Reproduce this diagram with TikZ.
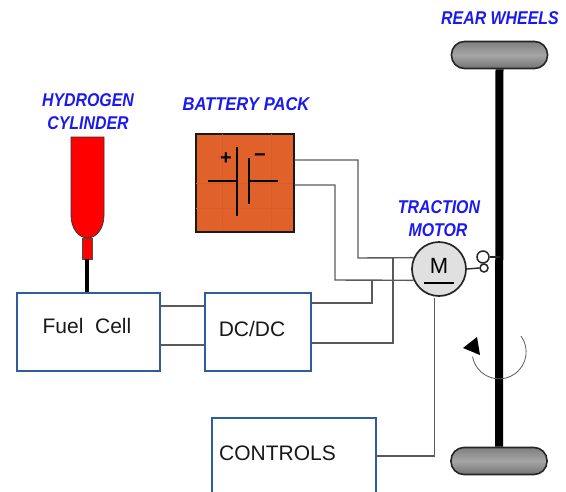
\documentclass[tikz,border=0pt]{standalone}
\usepackage{fontspec}
\setmainfont{Liberation Sans}
\usetikzlibrary{arrows.meta,positioning,calc}
\definecolor{boxblue}{HTML}{2F5C9A}
\definecolor{titleblue}{HTML}{1A1AF0}
\definecolor{brick}{HTML}{E0622A}
\definecolor{wire}{HTML}{5A5A5A}

\begin{document}
\begin{tikzpicture}[x=1pt,y=-1pt,
  blk/.style={draw=boxblue,line width=1.8pt,fill=white,inner sep=0pt,anchor=north west},
  txt/.style={font=\fontsize{21}{23}\selectfont,text=black!90,inner sep=0pt},
  ttl/.style={font=\fontsize{18.5}{20}\selectfont\bfseries\itshape,text=titleblue,inner sep=0pt,xscale=0.86,transform shape},
  wheelpad/.style={draw=black!85,line width=1.6pt,rounded corners=13pt,minimum width=96pt,minimum height=27pt,inner sep=0pt,
    top color=black!50,bottom color=black!55,middle color=black!35},
  gearwheel/.style={circle,draw=black!85,line width=1.5pt,fill=white,inner sep=0pt},
  a/.style={wire,line width=1.4pt}]
  \useasboundingbox (0,0) rectangle (566,491);
  \clip (0,0) rectangle (566,491);
  % boxes
  \node[blk,minimum width=143pt,minimum height=78pt] (fuel) at (16,292) {};
  \node[blk,minimum width=106pt,minimum height=78pt] (dcdc) at (204,292) {};
  \node[blk,minimum width=164pt,minimum height=80pt] (ctrl) at (211,417) {};
  \node[txt] (fueltxt) at (87,326) {Fuel\ \ Cell};
  \node[txt] (dcdctxt) at (252,329) {DC/DC};
  \node[txt,anchor=west] (ctrltxt) at (219,453) {CONTROLS};
  % battery
  \node[draw=black!90,line width=2pt,fill=brick,minimum size=98pt,inner sep=0pt] (batt) at (244.5,182.5) {};
  \foreach \gx in {222,271} \draw[brick!96!black,line width=0.5pt] (\gx,134) -- (\gx,231);
  \foreach \gy in {183,208} \draw[brick!96!black,line width=0.5pt] (196,\gy) -- (293,\gy);
  \draw[line width=1.6pt] (208,181) -- (237,181) (237,147) -- (237,216);
  \draw[line width=1.6pt] (278,181) -- (249,181) (249,158) -- (249,204);
  \node[font=\fontsize{20}{21}\selectfont\bfseries,inner sep=0pt] (plus) at (226,159) {+};
  \node[font=\fontsize{20}{21}\selectfont\bfseries,inner sep=0pt] (minus) at (260,158) {−};
  % cylinder
  \node[draw=black!70,line width=0.8pt,fill=red,minimum width=10pt,minimum height=21pt,inner sep=0pt] (neck) at (87,248.5) {};
  \draw[draw=black!80,line width=0.8pt,fill=red] (71,137) -- (104,137) -- (104,215)
    .. controls (104,229) and (96,238) .. (87.5,238) .. controls (79,238) and (71,229) .. (71,215) -- cycle;
  \draw[black,line width=3.8pt] (neck.south) -- (neck.south |- fuel.north);
  % wheels and axle
  \node[wheelpad] (wtop) at (499.5,55) {};
  \node[wheelpad] (wbot) at (499,461) {};
  \draw[black,line width=8pt] (wtop.south) -- (wbot.north);
  % motor
  \node[circle,draw=black!85,line width=1.7pt,fill=black!12,minimum size=54pt,inner sep=0pt] (motor) at (439,269) {};
  \node[font=\fontsize{22}{24}\selectfont,inner sep=0pt] (mlabel) at (439,266) {M};
  \draw[line width=1.4pt] (424,283) -- (454,283);
  \node[gearwheel,minimum size=12pt] (gearup) at (483,257) {};
  \node[gearwheel,minimum size=8pt] (geardn) at (484,268) {};
  \draw[black!85,line width=1.4pt] (motor.east) -- (geardn.west);
  \draw[black!85,line width=1.4pt] (gearup.east) -- (gearup.east -| wtop.south);
  % wires
  \coordinate (turnA) at (358,258);
  \coordinate (turnB) at (335,280);
  \coordinate (turnC) at (372,280);
  \coordinate (turnD) at (393,258);
  \coordinate (ctrlout) at (375,456);
  \draw[a] ([yshift=22.5pt]batt.east) -| (turnA) -- (motor.156);
  \draw[a] ([yshift=-2.5pt]batt.east) -| (turnB) -- (motor.204);
  \draw[a] ([yshift=29pt]dcdc.east) -| (turnC);
  \draw[a] ([yshift=-11pt]dcdc.east) -| (turnD);
  \draw[a] ([yshift=26pt]fuel.east) -- ([yshift=26pt]dcdc.west);
  \draw[a] ([yshift=-13pt]fuel.east) -- ([yshift=-13pt]dcdc.west);
  \draw[a] (ctrlout) -| ($(motor.south)+(-4.5,1.5)$);
  % rotation mark
  \draw[wire,line width=0.8pt] (521,336) arc[start angle=-36,end angle=170,radius=27];
  \fill[black] (463,348) -- (477,337) -- (480,355) -- cycle;
  % titles
  \node[ttl] (cylA) at (88,100) {HYDROGEN};
  \node[ttl] (cylB) at (88,123) {CYLINDER};
  \node[ttl,xscale=1.04] (batttl) at (246,104) {BATTERY PACK};
  \node[ttl] (motA) at (439,207) {TRACTION};
  \node[ttl] (motB) at (438,230) {MOTOR};
  \node[ttl] (whl) at (500,18) {REAR WHEELS};
\end{tikzpicture}
\end{document}
